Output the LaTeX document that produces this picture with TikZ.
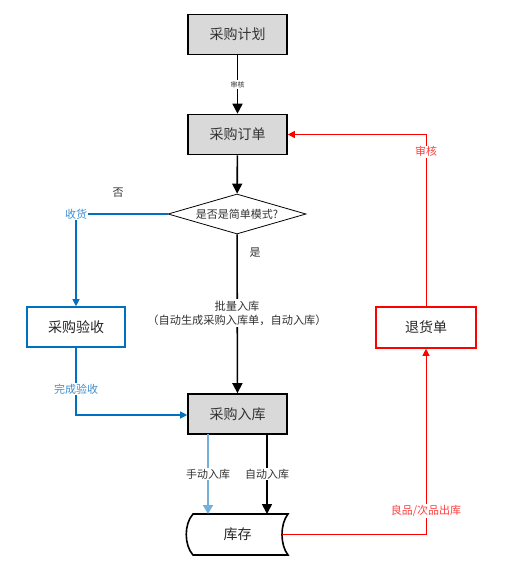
\documentclass[tikz,border=0pt]{standalone}
\usepackage{fontspec}
\setmainfont{Noto Sans CJK SC}
\usetikzlibrary{arrows.meta,shapes.geometric}
\definecolor{boxgray}{HTML}{D9D9D9}
\definecolor{ablue}{HTML}{0070C0}
\definecolor{lblue}{HTML}{3F8FD0}
\definecolor{lred}{HTML}{FF4040}
\definecolor{lgray}{HTML}{333333}
\tikzset{
  graybox/.style={draw=black, line width=1.6pt, fill=boxgray, minimum width=99pt, minimum height=40pt, inner sep=0pt, font=\fontsize{14}{16}\selectfont, text=lgray},
  bluebox/.style={draw=ablue, line width=1.6pt, fill=white, minimum width=98pt, minimum height=40pt, inner sep=0pt, font=\fontsize{14}{16}\selectfont, text=black!85},
  redbox/.style={draw=red, line width=1.6pt, fill=white, minimum width=100pt, minimum height=41pt, inner sep=0pt, font=\fontsize{14}{16}\selectfont, text=black!85},
  decision/.style={diamond, draw=black, line width=0.8pt, aspect=3.45, minimum width=138pt, minimum height=40pt, inner sep=0pt, font=\fontsize{11}{12}\selectfont, text=lgray},
  blackarrow/.style={draw=black, line width=1.6pt, -{Triangle[length=10pt,width=10pt]}},
  bluearrow/.style={draw=ablue, line width=1.1pt, -{Triangle[length=7pt,width=7pt]}},
  bluelight/.style={draw=ablue!55, line width=1.8pt, -{Triangle[length=9pt,width=10pt]}},
  redarrow/.style={draw=red, line width=0.9pt, -{Triangle[length=7pt,width=7pt]}},
  lbl/.style={font=\fontsize{11}{13}\selectfont, text=lgray, fill=white, inner sep=1pt},
  bluelbl/.style={font=\fontsize{11}{13}\selectfont, text=lblue, fill=white, inner sep=1pt},
  redlbl/.style={font=\fontsize{11}{13}\selectfont, text=lred, fill=white, inner sep=1pt},
}
\begin{document}
\begin{tikzpicture}[x=1pt,y=-1pt]
\useasboundingbox (0,0) rectangle (505,584);
\node[graybox] (plan) at (237.5,34.5) {采购计划};
\node[graybox] (order) at (237.5,134.5) {采购订单};
\node[decision] (dec) at (237,214) {是否是简单模式?};
\node[bluebox] (check) at (76,327) {采购验收};
\node[graybox] (instock) at (237.5,414) {采购入库};
\node[redbox] (ret) at (426,327.5) {退货单};
% storage node
\node[minimum width=101pt, minimum height=41pt, inner sep=0pt, font=\fontsize{14}{16}\selectfont, text=black!85] (store) at (237.5,534.5) {库存};
\draw[line width=1.6pt, line join=miter]
  (193,514) -- (288,514) .. controls (280,524) and (280,545) .. (288,555)
  -- (193,555) .. controls (184,545) and (184,524) .. (193,514) -- cycle;
\coordinate (storeR) at (282,534.5);
% main flow
\draw[blackarrow] (plan) -- node[font=\fontsize{7}{8}\selectfont, fill=white, inner sep=1pt, text=lgray] {审核} (order);
\draw[blackarrow] (order) -- (dec);
\draw[blackarrow] (dec) -- (instock);
\node[font=\fontsize{11}{12}\selectfont, text=lgray] (yes) at (255,253) {是};
\node[lbl, align=center, inner sep=2pt, font=\fontsize{11.2}{14}\selectfont] (batch) at (237,313) {批量入库\\（自动生成采购入库单，自动入库）};
\node[font=\fontsize{11}{12}\selectfont, text=lgray] (no) at (118,193) {否};
% blue path
\coordinate (bcorner) at (check.north |- dec.west);
\draw[bluearrow] (dec.west) -- (bcorner) -- (check.north);
\node[bluelbl] (recv) at (bcorner) {收货};
\coordinate (bcorner2) at (76,415);
\draw[bluearrow] (check.south) -- (bcorner2) -- (instock.west |- bcorner2);
\node[bluelbl] (done) at (76,389) {完成验收};
% instock to store
\coordinate (m1) at (208,434);
\coordinate (m2) at (267,434);
\coordinate (s1) at (208,514);
\coordinate (s2) at (267,514);
\draw[bluelight] (m1) -- node[lbl] {手动入库} (s1);
\draw[blackarrow] (m2) -- node[lbl] {自动入库} (s2);
% red path
\coordinate (rc1) at (ret.south |- storeR);
\draw[redarrow] (storeR) -- (rc1) -- (ret.south);
\node[redlbl] (outlbl) at (426,511) {良品/次品出库};
\coordinate (rc2) at (ret.north |- order.east);
\draw[redarrow] (ret.north) -- node[redlbl, pos=0.9] {审核} (rc2) -- (order.east);
\end{tikzpicture}
\end{document}
